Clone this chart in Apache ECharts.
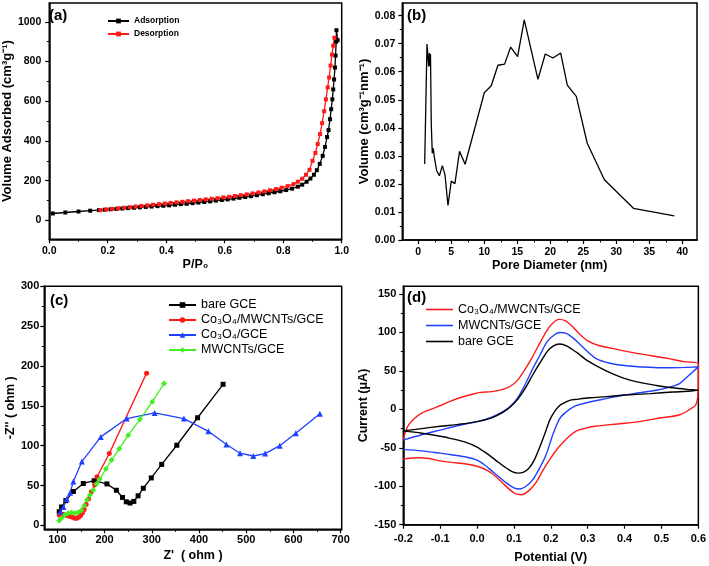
<!DOCTYPE html>
<html><head><meta charset="utf-8">
<script src="https://cdn.jsdelivr.net/npm/echarts@6/dist/echarts.min.js"></script>
<style>html,body{margin:0;padding:0;background:#fff;width:709px;height:566px;overflow:hidden}
.c{position:absolute;left:0;top:0;width:709px;height:566px}</style></head>
<body>
<div id="ca" class="c"></div><div id="cb" class="c"></div><div id="cc" class="c"></div><div id="cd" class="c"></div>
<script>
// ---------- Panel (a): N2 isotherm ----------
const adsX = [0.012,0.055,0.10,0.14,0.17,0.19,0.21,0.23,0.25,0.27,0.29,0.31,0.33,0.35,0.37,0.39,0.41,0.43,0.45,0.47,0.49,0.51,0.53,0.55,0.57,0.59,0.61,0.63,0.65,0.67,0.69,0.71,0.73,0.75,0.77,0.79,0.81,0.83,0.85,0.865,0.88,0.893,0.905,0.915,0.925,0.935,0.943,0.95,0.955,0.96,0.964,0.968,0.971,0.974,0.977,0.979,0.981,0.982,0.986];
const adsY = [35,40,45,49,52,54,56,58,60,62,64,66,68,70,72,74,76,79,82,84,87,90,93,96,100,103,106,110,114,118,122,127,132,137,142,147,153,160,170,180,195,211,230,253,285,325,370,420,455,510,560,610,660,710,770,830,900,958,908];
const desX = [0.175,0.195,0.215,0.235,0.255,0.275,0.295,0.315,0.335,0.355,0.375,0.395,0.415,0.435,0.455,0.475,0.495,0.515,0.535,0.555,0.575,0.595,0.615,0.635,0.655,0.675,0.695,0.715,0.735,0.755,0.775,0.795,0.815,0.835,0.85,0.865,0.878,0.89,0.9,0.91,0.918,0.926,0.933,0.94,0.946,0.952,0.957,0.962,0.967,0.971,0.975];
const desY = [52,55,58,61,64,67,70,73,76,79,82,85,88,91,94,97,100,103,106,109,112,116,119,123,127,131,136,141,146,152,158,165,173,183,195,210,230,255,300,340,385,435,490,550,610,670,720,780,835,880,920];
const aXTicks = [0,0.2,0.4,0.6,0.8,1.0];
const aXMinor = [0.1,0.3,0.5,0.7,0.9];
const aYTicks = [0,200,400,600,800,1000];
const aYMinor = [-100,100,300,500,700,900];

// ---------- Panel (b): pore size distribution ----------
const poreD = [0.97,1.32,1.57,1.67,1.77,1.85,1.97,2.12,2.27,2.42,2.57,2.8,3.2,3.65,4.05,4.5,5.0,5.55,6.25,7.1,10.0,11.06,12.07,13.08,14.0,15.05,16.06,18.13,19.24,20.4,21.57,22.58,23.94,25.6,28.2,32.6,38.8];
const poreV = [0.0271,0.0699,0.0619,0.0667,0.0620,0.0663,0.0416,0.0309,0.0327,0.0297,0.0300,0.0246,0.0229,0.0265,0.0232,0.0123,0.0210,0.0201,0.0316,0.0270,0.0525,0.0550,0.0623,0.0627,0.0688,0.0654,0.0785,0.0573,0.0663,0.0649,0.0667,0.0552,0.0512,0.0345,0.0215,0.0113,0.0086];
const bXTicks = [0,5,10,15,20,25,30,35,40];
const bXMinor = [2.5,7.5,12.5,17.5,22.5,27.5,32.5,37.5];
const bYTicks = [0,0.01,0.02,0.03,0.04,0.05,0.06,0.07,0.08];
const bYMinor = [0.005,0.015,0.025,0.035,0.045,0.055,0.065,0.075];

// ---------- Panel (c): Nyquist plots ----------
const cNames = ['bare GCE','Co\u2083O\u2084/MWCNTs/GCE','Co\u2083O\u2084/GCE','MWCNTs/GCE'];
const bareZre = [104,109,118,134,155,178,205,225,238,246,254,262,271,282,299,321,353,397,451];
const bareZim = [17,23,31,42.5,52.5,56,52,44,35,29.5,28,30,37,46.5,59.5,76.5,100.5,135,177];
const compZre = [104,108,112,117,122,127,132,137,141,145,149,153,157,161,166,172,179,184,210,289];
const compZim = [13,14,14,13,12,11,10,9,9,10,12,15.5,20,26,33,42,51,61,90,191];
const coZre = [107,113,120,127,134,152,192,247,306,368,420,458,487,515,540,571,605,656];
const coZim = [17,23,33,41,55,80,111,134,141,134,118,101.5,90.5,87,90,100,115.5,140];
const mwZre = [104,109,116,123,130,137,144,151,157,163,169,176,183,190,203,215,231,250,275,301,326];
const mwZim = [6,9,13,15,16,15,16,19,25,32,38,44,52,58,71,82,96,113,133,155,178];
const cXTicks = [100,200,300,400,500,600,700];
const cXMinor = [150,250,350,450,550,650];
const cYTicks = [0,50,100,150,200,250,300];
const cYMinor = [25,75,125,175,225,275];

// ---------- Panel (d): cyclic voltammograms [potential V, current uA] ----------
const dNames = ['Co\u2083O\u2084/MWCNTs/GCE','MWCNTs/GCE','bare GCE'];
const cvComp = [[-0.2,-40],[-0.195,-30],[-0.185,-20],[-0.17,-12],[-0.15,-5],[-0.12,1],[-0.1,5],[-0.07,11],[-0.04,16],[-0.01,20],[0.01,22],[0.04,23],[0.07,26],[0.09,30],[0.11,38],[0.13,52],[0.15,68],[0.17,86],[0.19,103],[0.205,112],[0.222,117],[0.24,115],[0.26,107],[0.28,97],[0.30,89],[0.33,83],[0.37,79],[0.42,74],[0.47,70],[0.52,66],[0.56,62],[0.6,59.6],[0.6,40],[0.598,15],[0.592,5],[0.58,1],[0.55,-7],[0.5,-11],[0.44,-16],[0.38,-19],[0.32,-22],[0.29,-25],[0.27,-28],[0.25,-35],[0.235,-42],[0.22,-50],[0.2,-63],[0.18,-78],[0.16,-95],[0.14,-106],[0.12,-111],[0.105,-110],[0.09,-105],[0.07,-96],[0.05,-87],[0.03,-80],[0.0,-74],[-0.03,-71],[-0.07,-69],[-0.1,-67],[-0.13,-64],[-0.16,-63],[-0.19,-64],[-0.2,-65]];
const cvMw = [[-0.2,-40],[-0.15,-33],[-0.1,-27],[-0.05,-21],[0,-16],[0.04,-10],[0.07,-3],[0.09,4],[0.11,15],[0.13,32],[0.15,52],[0.17,70],[0.19,88],[0.21,97],[0.225,100],[0.24,99],[0.26,93],[0.28,84],[0.3,75],[0.323,66],[0.36,60],[0.4,57],[0.45,55],[0.5,54],[0.55,54.3],[0.6,55.2],[0.59,51],[0.58,46.5],[0.565,40],[0.549,33.5],[0.52,28.5],[0.486,24.8],[0.44,21.5],[0.395,18.3],[0.35,14],[0.305,9.6],[0.28,6.5],[0.26,3],[0.24,-4],[0.224,-12],[0.206,-32],[0.188,-58],[0.17,-76],[0.15,-92],[0.13,-101],[0.115,-103.5],[0.1,-102],[0.08,-96],[0.06,-88],[0.04,-80],[0.02,-72],[0.0,-66],[-0.03,-62],[-0.07,-59],[-0.1,-57],[-0.15,-54],[-0.2,-52]];
const cvBare = [[-0.2,-28],[-0.15,-25],[-0.1,-22],[-0.05,-19.5],[0,-16],[0.04,-11],[0.07,-4],[0.09,3],[0.11,13],[0.13,27],[0.15,44],[0.17,60],[0.19,75],[0.205,82],[0.224,85],[0.245,82],[0.27,74],[0.3,63],[0.35,50],[0.395,41],[0.44,35],[0.486,31],[0.53,28],[0.57,26],[0.6,24.8],[0.57,23.5],[0.53,22.5],[0.47,20.5],[0.395,18.3],[0.35,16.5],[0.305,15],[0.27,13],[0.251,11.7],[0.235,8],[0.224,5],[0.21,-3],[0.197,-14],[0.185,-30],[0.17,-49],[0.155,-66],[0.14,-77],[0.125,-82],[0.11,-83],[0.095,-81],[0.075,-75],[0.05,-66],[0.025,-57],[0,-49],[-0.03,-43],[-0.07,-38],[-0.1,-35],[-0.15,-31],[-0.2,-28]];
const dXTicks = [-0.2,-0.1,0.0,0.1,0.2,0.3,0.4,0.5,0.6];
const dYTicks = [-150,-100,-50,0,50,100,150];
const dYMinor = [-125,-75,-25,25,75,125];

// ---------- helpers ----------
const FONT = '"Liberation Sans", Arial, Helvetica, sans-serif';
function axes(dir, c) {
  const pos = dir === 'x' ? 'bottom' : 'left';
  const main = {
    type: 'value', gridIndex: 0, position: pos, min: c.min, max: c.max,
    name: c.name, nameLocation: 'middle', nameGap: c.nameGap,
    nameTextStyle: {fontFamily: FONT, fontWeight: 'bold', fontSize: c.nameSize, color: '#000'},
    axisLine: {show: true, onZero: false, lineStyle: {color: '#000', width: 1.5}},
    axisTick: {show: true, inside: false, length: 4, customValues: c.major, lineStyle: {color: '#000', width: 1.2}},
    axisLabel: {show: true, customValues: c.major, margin: c.margin, formatter: c.fmt,
      fontFamily: FONT, fontWeight: 'bold', fontSize: c.labelSize, color: '#000'},
    splitLine: {show: false}
  };
  const list = [main];
  if (c.minor) {
    list.push({
      type: 'value', gridIndex: 0, position: pos, min: c.min, max: c.max,
      axisLine: {show: false, onZero: false},
      axisLabel: {show: false}, splitLine: {show: false},
      axisTick: {show: true, inside: false, length: 2.5, customValues: c.minor, lineStyle: {color: '#000', width: 1}}
    });
  }
  return list;
}
function grid(l, t, w, h) {
  return {left: l, top: t, width: w, height: h, show: true, borderColor: '#000', borderWidth: 1.5, backgroundColor: 'transparent', containLabel: false};
}
function label(txt, l, t) {
  return {type: 'text', left: l, top: t, z: 100, style: {text: txt, font: 'bold 15px ' + FONT, fill: '#000'}};
}
function pairs(xs, ys) { return xs.map((x, i) => [x, ys[i]]); }

// ---------- chart (a) ----------
echarts.init(document.getElementById('ca'), null, {renderer: 'canvas'}).setOption({
  animation: false, backgroundColor: 'transparent',
  grid: grid(45, 3, 296.7, 236.3),
  xAxis: axes('x', {min: 0, max: 1, major: aXTicks, minor: aXMinor, fmt: v => v.toFixed(1), name: 'P/P\u2080', nameGap: 19, nameSize: 12.5, margin: 6, labelSize: 10.5}),
  yAxis: axes('y', {min: -95, max: 1095, major: aYTicks, minor: aYMinor, fmt: v => String(v), name: 'Volume Adsorbed (cm\u00b3g\u207b\u00b9)', nameGap: 26, nameSize: 13, margin: 8, labelSize: 10.5}),
  legend: {orient: 'vertical', left: 102, top: 11, itemWidth: 21, itemHeight: 6, itemGap: 3,
    textStyle: {fontFamily: FONT, fontWeight: 'bold', fontSize: 8.5, lineHeight: 10, color: '#000'},
    data: ['Adsorption', 'Desorption']},
  graphic: [label('(a)', 49, 8)],
  series: [
    {type: 'line', name: 'Adsorption', data: pairs(adsX, adsY), symbol: 'rect', symbolSize: 4, showAllSymbol: true,
      lineStyle: {color: '#000', width: 1.3}, itemStyle: {color: '#000'}},
    {type: 'line', name: 'Desorption', data: pairs(desX, desY), symbol: 'rect', symbolSize: 4, showAllSymbol: true,
      lineStyle: {color: '#ff1a1a', width: 1.3}, itemStyle: {color: '#ff1a1a'}}
  ]
});

// ---------- chart (b) ----------
echarts.init(document.getElementById('cb')).setOption({
  animation: false, backgroundColor: 'transparent',
  grid: grid(402.3, 3, 294.7, 237),
  xAxis: axes('x', {min: -2.42, max: 42.23, major: bXTicks, minor: bXMinor, fmt: v => String(v), name: 'Pore Diameter (nm)', nameGap: 19, nameSize: 12.5, margin: 7, labelSize: 10.5}),
  yAxis: axes('y', {min: 0, max: 0.0845, major: bYTicks, minor: bYMinor, fmt: v => v.toFixed(2), name: 'Volume (cm\u00b3g\u207b\u00b9nm\u207b\u00b9)', nameGap: 29, nameSize: 13, margin: 7, labelSize: 10.5}),
  graphic: [label('(b)', 407, 8)],
  series: [
    {type: 'line', name: 'PSD', data: pairs(poreD, poreV), symbol: 'none', lineStyle: {color: '#000', width: 1.3}}
  ]
});

// ---------- chart (c) ----------
const cColors = ['#000000', '#ff1a1a', '#2040ff', '#44ee22'];
const cSym = [['rect', 5], ['circle', 5], ['triangle', 6], ['diamond', 6]];
const cData = [pairs(bareZre, bareZim), pairs(compZre, compZim), pairs(coZre, coZim), pairs(mwZre, mwZim)];
echarts.init(document.getElementById('cc')).setOption({
  animation: false, backgroundColor: 'transparent',
  grid: grid(44.3, 286.3, 297.4, 243),
  xAxis: axes('x', {min: 72.4, max: 702.2, major: cXTicks, minor: cXMinor, fmt: v => String(v), name: "Z'  ( ohm )", nameGap: 20, nameSize: 12.5, margin: 5, labelSize: 11}),
  yAxis: axes('y', {min: -5, max: 300, major: cYTicks, minor: cYMinor, fmt: v => String(v), name: "-Z'' ( ohm )", nameGap: 26, nameSize: 12.5, margin: 5, labelSize: 11}),
  legend: {orient: 'vertical', left: 163, top: 293, itemWidth: 27, itemHeight: 7, itemGap: 1,
    textStyle: {fontFamily: FONT, fontSize: 12.5, lineHeight: 14, color: '#000'},
    data: cNames},
  graphic: [label('(c)', 50, 293)],
  series: cNames.map((n, i) => ({
    type: 'line', name: n, data: cData[i], symbol: cSym[i][0], symbolSize: cSym[i][1], showAllSymbol: true,
    lineStyle: {color: cColors[i], width: 1.3}, itemStyle: {color: cColors[i]}
  }))
});

// ---------- chart (d) ----------
const dColors = ['#ff1a1a', '#2040ff', '#000000'];
const dData = [cvComp, cvMw, cvBare];
echarts.init(document.getElementById('cd')).setOption({
  animation: false, backgroundColor: 'transparent',
  grid: grid(403.3, 286.3, 295.7, 238.4),
  xAxis: axes('x', {min: -0.2, max: 0.6, major: dXTicks, minor: null, fmt: v => v.toFixed(1), name: 'Potential (V)', nameGap: 26, nameSize: 12.5, margin: 9, labelSize: 11}),
  yAxis: axes('y', {min: -150, max: 160, major: dYTicks, minor: dYMinor, fmt: v => String(v), name: 'Current (\u03bcA)', nameGap: 31, nameSize: 12.5, margin: 7, labelSize: 11}),
  legend: {orient: 'vertical', left: 421, top: 297, itemWidth: 27, itemHeight: 1.6, itemGap: 1, icon: 'rect',
    textStyle: {fontFamily: FONT, fontSize: 12.5, lineHeight: 15, color: '#000'},
    data: dNames},
  graphic: [label('(d)', 407, 290)],
  series: dNames.map((n, i) => ({
    type: 'line', name: n, data: dData[i], symbol: 'none', smooth: 0.3,
    lineStyle: {color: dColors[i], width: 1.4}, itemStyle: {color: dColors[i]}
  }))
});
</script>
</body></html>
